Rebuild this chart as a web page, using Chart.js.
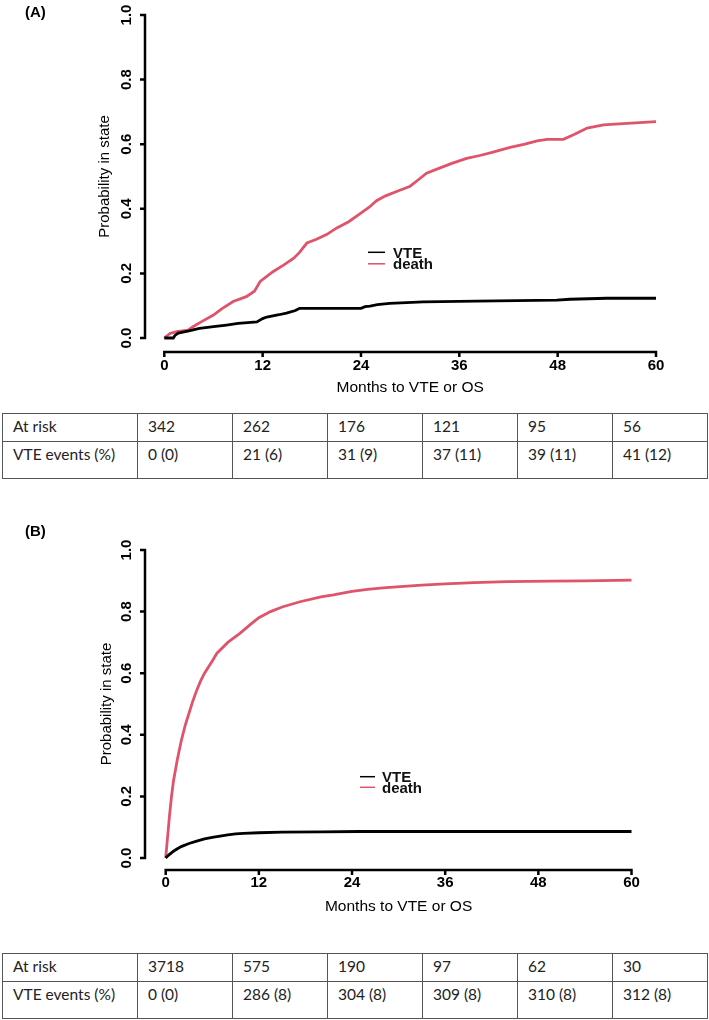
<!DOCTYPE html>
<html>
<head>
<meta charset="utf-8">
<script src="https://cdn.jsdelivr.net/npm/chart.js@4.4.1/dist/chart.umd.min.js"></script>
<style>
  html, body { margin:0; padding:0; background:#fff; }
  body { width:709px; height:1020px; position:relative; overflow:hidden; }
  canvas { position:absolute; left:0; }
  table.risk { position:absolute; left:2px; border-collapse:collapse; table-layout:fixed;
    font-family:"Lato","Open Sans",sans-serif; font-size:15.5px; color:#222; }
  table.risk td { border:1px solid #555; padding:0 0 0 10px; vertical-align:top; overflow:hidden; white-space:nowrap; }
  table.risk tr.r1 td { height:27px; line-height:24px; }
  table.risk tr.r2 td { height:36px; line-height:24px; }
</style>
</head>
<body>
<canvas id="ca" width="709" height="400" style="top:0"></canvas>
<canvas id="cb" width="709" height="420" style="top:500px"></canvas>
<div id="tables"></div>
<script>
// ---------- data ----------
const xTicks = [0, 12, 24, 36, 48, 60];
const yTicks = [0, 0.2, 0.4, 0.6, 0.8, 1.0];
const yTickLabels = ["0.0", "0.2", "0.4", "0.6", "0.8", "1.0"];
const seriesNames = ["VTE", "death"];
const xTitle = "Months to VTE or OS";
const yTitle = "Probability in state";

// Panel A
const aVteMonths = [0, 1.1, 1.3, 1.7, 3, 4.3, 6, 7.6, 9, 11.3, 12, 12.5, 14, 14.9, 16, 16.5, 24, 24.5, 25.1, 26, 27.5, 31.6, 38.1, 47.9, 49.5, 54, 60];
const aVte       = [0, 0, 0.008, 0.015, 0.022, 0.03, 0.035, 0.04, 0.045, 0.05, 0.06, 0.065, 0.072, 0.077, 0.085, 0.092, 0.092, 0.097, 0.099, 0.103, 0.107, 0.112, 0.114, 0.117, 0.12, 0.123, 0.123];
const aDeathMonths = [0, 0.7, 1.5, 2.9, 3.5, 4.5, 6, 7, 8.4, 10, 11, 11.7, 13.3, 14.5, 15.8, 16.5, 17.4, 18.5, 19.8, 21, 22.5, 23.9, 25, 25.9, 27, 28.5, 30, 31, 32, 33.5, 35, 36.9, 38.5, 40, 42.2, 44, 45.5, 46.7, 48.7, 50, 51.6, 53.6, 55, 57, 60];
const aDeath       = [0, 0.014, 0.02, 0.024, 0.035, 0.05, 0.071, 0.09, 0.113, 0.128, 0.145, 0.175, 0.206, 0.225, 0.247, 0.265, 0.294, 0.305, 0.32, 0.34, 0.36, 0.385, 0.405, 0.425, 0.44, 0.455, 0.47, 0.49, 0.51, 0.525, 0.54, 0.556, 0.565, 0.575, 0.59, 0.60, 0.61, 0.615, 0.615, 0.63, 0.65, 0.66, 0.662, 0.665, 0.67];
const aRiskHeader = ["At risk", "342", "262", "176", "121", "95", "56"];
const aEvents     = ["VTE events (%)", "0 (0)", "21 (6)", "31 (9)", "37 (11)", "39 (11)", "41 (12)"];

// Panel B
const bVteMonths = [0, 0.3, 0.7, 1, 1.5, 2, 3, 4, 5, 6, 7, 8, 9, 10, 12, 15, 20, 25, 30, 40, 50, 60];
const bVte       = [0, 0.008, 0.016, 0.022, 0.03, 0.037, 0.047, 0.055, 0.062, 0.067, 0.071, 0.075, 0.078, 0.08, 0.082, 0.084, 0.085, 0.086, 0.086, 0.086, 0.086, 0.086];
const bDeathMonths = [0, 0.25, 0.5, 0.75, 1, 1.5, 2, 2.5, 3, 3.5, 4, 4.5, 5, 6, 6.6, 8, 9.6, 11, 12, 13.5, 15, 17.3, 20, 21.6, 24, 26, 28, 30.2, 33, 36, 39.7, 44, 49.6, 54, 60];
const bDeath       = [0, 0.07, 0.14, 0.2, 0.25, 0.32, 0.38, 0.43, 0.47, 0.51, 0.545, 0.575, 0.60, 0.64, 0.665, 0.70, 0.73, 0.76, 0.78, 0.80, 0.815, 0.832, 0.848, 0.854, 0.866, 0.872, 0.877, 0.881, 0.886, 0.89, 0.894, 0.897, 0.899, 0.90, 0.902];
const bRiskHeader = ["At risk", "3718", "575", "190", "97", "62", "30"];
const bEvents     = ["VTE events (%)", "0 (0)", "286 (8)", "304 (8)", "309 (8)", "310 (8)", "312 (8)"];

// ---------- helpers ----------
const RED = "#DF536B";
const pts = (xs, ys) => xs.map((x, i) => ({x: x, y: ys[i]}));

function axesPlugin(o) {
  return {
    id: "rAxes",
    afterDraw(chart) {
      const ctx = chart.ctx, xs = chart.scales.x, ys = chart.scales.y;
      ctx.save();
      ctx.strokeStyle = "#000"; ctx.fillStyle = "#000";
      ctx.lineWidth = 2.5; ctx.lineCap = "butt";
      // y axis
      const ax = xs.getPixelForValue(0) - o.yOff;
      ctx.beginPath();
      ctx.moveTo(ax, ys.getPixelForValue(yTicks[0]));
      ctx.lineTo(ax, ys.getPixelForValue(yTicks[yTicks.length - 1]));
      yTicks.forEach(v => { const p = ys.getPixelForValue(v); ctx.moveTo(ax + 1.2, p); ctx.lineTo(ax - 5, p); });
      ctx.stroke();
      ctx.font = "bold 15px 'Liberation Sans', Arial, sans-serif";
      ctx.textAlign = "center"; ctx.textBaseline = "middle";
      yTicks.forEach((v, i) => {
        const p = ys.getPixelForValue(v);
        ctx.save(); ctx.translate(ax - 18, p); ctx.rotate(-Math.PI / 2);
        ctx.fillText(yTickLabels[i], 0, 0); ctx.restore();
      });
      ctx.font = "15px 'Liberation Sans', Arial, sans-serif";
      ctx.save();
      ctx.translate(ax - o.yTitleOff, (ys.getPixelForValue(0) + ys.getPixelForValue(1)) / 2);
      ctx.rotate(-Math.PI / 2); ctx.fillText(yTitle, 0, 0); ctx.restore();
      // x axis
      const ay = ys.getPixelForValue(0) + o.xOff;
      ctx.beginPath();
      ctx.moveTo(xs.getPixelForValue(xTicks[0]), ay);
      ctx.lineTo(xs.getPixelForValue(xTicks[xTicks.length - 1]), ay);
      xTicks.forEach(v => { const p = xs.getPixelForValue(v); ctx.moveTo(p, ay - 1.2); ctx.lineTo(p, ay + 5); });
      ctx.stroke();
      ctx.font = "bold 15px 'Liberation Sans', Arial, sans-serif";
      xTicks.forEach(v => ctx.fillText(String(v), xs.getPixelForValue(v), ay + o.xLabOff));
      ctx.font = "15.5px 'Liberation Sans', Arial, sans-serif";
      ctx.fillText(xTitle, (xs.getPixelForValue(0) + xs.getPixelForValue(60)) / 2, ay + o.xTitleOff);
      // legend
      ctx.lineWidth = 1.5;
      ctx.font = "bold 15px 'Liberation Sans', Arial, sans-serif";
      ctx.textAlign = "left"; ctx.textBaseline = "alphabetic";
      const cols = ["#000", RED];
      seriesNames.forEach((n, i) => {
        const ly = o.legY + i * o.legGap;
        ctx.strokeStyle = cols[i];
        ctx.beginPath(); ctx.moveTo(o.legX, ly); ctx.lineTo(o.legX + o.legLen, ly); ctx.stroke();
      });
      ctx.fillStyle = "#111";
      seriesNames.forEach((n, i) => {
        const ly = o.legY + i * o.legGap;
        ctx.fillText(n, o.legX + o.legLen + o.legTxtGap, ly + 5.5);
      });
      // panel label
      ctx.font = "bold 15px 'Liberation Sans', Arial, sans-serif";
      ctx.fillStyle = "#000";
      ctx.textBaseline = "middle";
      ctx.fillText(o.panel, 25, o.panelY);
      ctx.restore();
    }
  };
}

function makeChart(id, vm, vv, dm, dv, pad, o) {
  return new Chart(document.getElementById(id), {
    type: "line",
    data: {
      datasets: [
        { label: seriesNames[0], data: pts(vm, vv), borderColor: "#000", borderWidth: 2.8, pointRadius: 0, tension: 0, clip: false },
        { label: seriesNames[1], data: pts(dm, dv), borderColor: RED, borderWidth: 2.8, pointRadius: 0, tension: 0, clip: false }
      ]
    },
    options: {
      responsive: false, animation: false, devicePixelRatio: 1,
      layout: { padding: pad },
      plugins: { legend: { display: false }, tooltip: { enabled: false } },
      scales: {
        x: { type: "linear", min: 0, max: 60, display: false },
        y: { type: "linear", min: 0, max: 1, display: false }
      }
    },
    plugins: [axesPlugin(o)]
  });
}

makeChart("ca", aVteMonths, aVte, aDeathMonths, aDeath,
  { left: 164.3, right: 709 - 656, top: 15, bottom: 400 - 338 },
  { yOff: 19.3, yTitleOff: 40, xOff: 14, xLabOff: 14, xTitleOff: 36,
    legX: 368, legLen: 17, legTxtGap: 8, legY: 252.3, legGap: 11.5, panel: "(A)", panelY: 13 });

makeChart("cb", bVteMonths, bVte, bDeathMonths, bDeath,
  { left: 165.7, right: 709 - 631.5, top: 50, bottom: 420 - 358 },
  { yOff: 20.7, yTitleOff: 38, xOff: 12, xLabOff: 13, xTitleOff: 37,
    legX: 360, legLen: 15, legTxtGap: 7, legY: 276.7, legGap: 10.6, panel: "(B)", panelY: 32 });

// ---------- tables ----------
function makeTable(top, r1, r2) {
  const t = document.createElement("table");
  t.className = "risk"; t.style.top = top + "px";
  const cg = document.createElement("colgroup");
  [135, 95, 95, 95, 95, 95, 95].forEach(w => { const c = document.createElement("col"); c.style.width = w + "px"; cg.appendChild(c); });
  t.appendChild(cg);
  [[r1, "r1"], [r2, "r2"]].forEach(([row, cls]) => {
    const tr = document.createElement("tr"); tr.className = cls;
    row.forEach(v => { const td = document.createElement("td"); td.textContent = v; tr.appendChild(td); });
    t.appendChild(tr);
  });
  document.getElementById("tables").appendChild(t);
}
makeTable(413, aRiskHeader, aEvents);
makeTable(952.5, bRiskHeader, bEvents);
</script>
</body>
</html>
